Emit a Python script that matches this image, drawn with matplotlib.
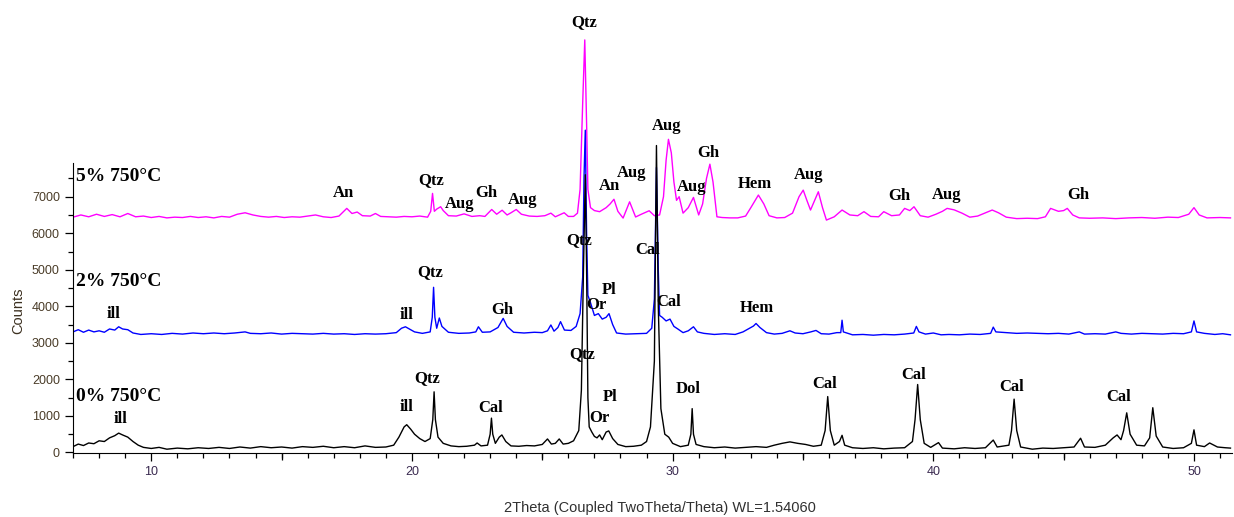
import numpy as np
import matplotlib.pyplot as plt
from matplotlib.ticker import MultipleLocator, FixedLocator

# ---------------- data ----------------
# 0% 750°C (black)
tt_0 = [7.0, 7.2, 7.4, 7.6, 7.8, 8.0, 8.2, 8.4, 8.6, 8.75, 8.9, 9.1, 9.3, 9.5, 9.7,
        10.0, 10.3, 10.6, 11.0, 11.4, 11.8, 12.2, 12.6, 13.0, 13.4, 13.8, 14.2, 14.6,
        15.0, 15.4, 15.8, 16.2, 16.6, 17.0, 17.4, 17.8, 18.2, 18.6, 19.0, 19.3, 19.5,
        19.7, 19.8, 19.95, 20.1, 20.3, 20.5, 20.7, 20.8, 20.85, 20.9, 21.0, 21.2, 21.5,
        21.8, 22.1, 22.4, 22.5, 22.65, 22.9, 23.0, 23.05, 23.1, 23.2, 23.35, 23.45, 23.6,
        23.8, 24.1, 24.4, 24.7, 25.0, 25.2, 25.35, 25.5, 25.65, 25.8, 26.0, 26.2, 26.4,
        26.5, 26.58, 26.65, 26.7, 26.75, 26.8, 26.9, 27.0, 27.1, 27.2, 27.3, 27.45, 27.55,
        27.7, 27.9, 28.2, 28.5, 28.8, 29.0, 29.15, 29.3, 29.38, 29.45, 29.55, 29.7, 29.85,
        30.0, 30.3, 30.6, 30.7, 30.75, 30.8, 30.9, 31.2, 31.6, 32.0, 32.4, 32.8, 33.2,
        33.6, 33.9, 34.2, 34.5, 34.8, 35.1, 35.4, 35.7, 35.85, 35.95, 36.05, 36.2, 36.4,
        36.5, 36.6, 36.9, 37.3, 37.7, 38.1, 38.5, 38.9, 39.2, 39.3, 39.4, 39.5, 39.65,
        39.9, 40.2, 40.35, 40.8, 41.2, 41.6, 42.0, 42.3, 42.45, 42.9, 43.0, 43.1, 43.2,
        43.35, 43.8, 44.2, 44.6, 45.0, 45.4, 45.65, 45.8, 46.2, 46.6, 46.9, 47.05, 47.2,
        47.3, 47.42, 47.55, 47.8, 48.1, 48.3, 48.42, 48.55, 48.8, 49.2, 49.6, 49.9, 50.0,
        50.1, 50.4, 50.6, 50.9, 51.2, 51.4]
cnt_0 = [160, 230, 190, 260, 240, 320, 300, 400, 460, 530, 480, 420, 300, 200, 140,
         110, 140, 90, 120, 100, 130, 110, 140, 110, 150, 120, 160, 130,
         150, 120, 160, 140, 170, 130, 160, 130, 180, 140, 150, 200, 420,
         700, 760, 640, 500, 380, 300, 380, 900, 1660, 900, 420, 250, 180,
         160, 170, 200, 260, 180, 200, 500, 940, 500, 250, 420, 480, 300,
         180, 170, 190, 180, 220, 370, 230, 250, 370, 230, 250, 320, 600,
         1700, 5000, 7600, 5000, 1500, 700, 560, 440, 400, 480, 350, 560, 590,
         380, 220, 160, 170, 200, 300, 700, 2500, 8400, 4000, 1200, 500, 420,
         250, 160, 200, 500, 1200, 500, 220, 160, 130, 150, 120, 140, 160,
         140, 200, 250, 290, 250, 220, 170, 200, 600, 1530, 600, 200, 300,
         470, 200, 130, 110, 130, 100, 120, 130, 300, 900, 1860, 900, 250,
         140, 270, 120, 100, 130, 110, 130, 340, 150, 200, 600, 1460, 600,
         150, 90, 120, 110, 130, 150, 390, 150, 140, 200, 400, 480, 350,
         600, 1085, 500, 200, 180, 400, 1225, 450, 150, 110, 130, 250, 620,
         200, 160, 260, 150, 130, 120]

# 2% 750°C (blue)
tt_2 = [7.0, 7.2, 7.4, 7.6, 7.8, 8.0, 8.2, 8.4, 8.6, 8.75, 8.9, 9.1, 9.3, 9.6, 10.0,
        10.4, 10.8, 11.2, 11.6, 12.0, 12.4, 12.8, 13.2, 13.6, 13.8, 14.2, 14.6, 15.0,
        15.4, 15.8, 16.2, 16.6, 17.0, 17.4, 17.8, 18.2, 18.6, 19.0, 19.4, 19.6, 19.75,
        19.9, 20.1, 20.4, 20.7, 20.78, 20.83, 20.88, 20.95, 21.05, 21.15, 21.4, 21.8,
        22.2, 22.45, 22.55, 22.7, 23.0, 23.3, 23.5, 23.65, 23.9, 24.3, 24.7, 25.0, 25.2,
        25.33, 25.45, 25.6, 25.7, 25.85, 26.1, 26.3, 26.45, 26.55, 26.6, 26.65, 26.7,
        26.75, 26.85, 27.0, 27.15, 27.3, 27.45, 27.56, 27.7, 27.85, 28.2, 28.6, 29.0,
        29.2, 29.3, 29.38, 29.45, 29.5, 29.6, 29.75, 29.9, 30.05, 30.2, 30.4, 30.6, 30.8,
        30.95, 31.2, 31.6, 32.0, 32.4, 32.7, 32.9, 33.1, 33.2, 33.35, 33.6, 33.9, 34.2,
        34.5, 34.7, 35.0, 35.3, 35.5, 35.7, 36.0, 36.3, 36.45, 36.5, 36.55, 36.9, 37.3,
        37.7, 38.1, 38.5, 38.9, 39.25, 39.35, 39.45, 39.7, 40.0, 40.3, 40.6, 41.0, 41.4,
        41.8, 42.2, 42.3, 42.4, 42.8, 43.2, 43.6, 44.0, 44.4, 44.8, 45.2, 45.6, 45.8,
        46.2, 46.6, 47.0, 47.2, 47.6, 48.0, 48.4, 48.8, 49.2, 49.6, 49.9, 50.0, 50.1,
        50.4, 50.8, 51.1, 51.4]
cnt_2 = [3300, 3360, 3290, 3350, 3300, 3330, 3290, 3380, 3350, 3440, 3380, 3360, 3270, 3230, 3250,
         3230, 3260, 3240, 3270, 3250, 3270, 3250, 3270, 3300, 3260, 3250, 3270, 3240,
         3260, 3250, 3240, 3260, 3240, 3250, 3230, 3250, 3240, 3250, 3280, 3400, 3440,
         3380, 3300, 3260, 3300, 3700, 4520, 3700, 3400, 3680, 3450, 3290, 3260,
         3270, 3300, 3440, 3290, 3300, 3420, 3670, 3450, 3290, 3270, 3290, 3280, 3330,
         3490, 3320, 3420, 3580, 3350, 3340, 3450, 3800, 4800, 7500, 8820, 6000,
         4300, 4100, 3750, 3800, 3650, 3700, 3800, 3500, 3270, 3240, 3250, 3260,
         3400, 4200, 7800, 5000, 3750, 3700, 3600, 3650, 3450, 3380, 3280, 3330, 3440,
         3300, 3260, 3230, 3250, 3230, 3300, 3380, 3460, 3530, 3420, 3280, 3240, 3260,
         3330, 3270, 3250, 3300, 3340, 3250, 3240, 3280, 3280, 3620, 3300, 3220, 3230,
         3210, 3230, 3220, 3240, 3270, 3450, 3300, 3240, 3270, 3220, 3230, 3220, 3240,
         3230, 3260, 3430, 3300, 3280, 3260, 3270, 3260, 3250, 3260, 3240, 3300, 3240,
         3250, 3240, 3300, 3260, 3240, 3260, 3250, 3240, 3260, 3250, 3300, 3600, 3300,
         3260, 3230, 3250, 3220]

# 5% 750°C (magenta)
tt_5 = [7.0, 7.3, 7.6, 7.9, 8.2, 8.5, 8.8, 9.1, 9.4, 9.7, 10.0, 10.3, 10.6, 10.9, 11.2,
        11.5, 11.8, 12.1, 12.4, 12.7, 13.0, 13.3, 13.6, 13.9, 14.2, 14.5, 14.8, 15.1,
        15.4, 15.7, 16.0, 16.3, 16.6, 16.9, 17.2, 17.5, 17.7, 17.9, 18.1, 18.4, 18.6,
        18.8, 19.1, 19.4, 19.7, 20.0, 20.3, 20.6, 20.72, 20.79, 20.86, 20.95, 21.1, 21.2,
        21.4, 21.7, 22.0, 22.3, 22.6, 22.8, 23.06, 23.25, 23.46, 23.65, 23.8, 24.0, 24.2,
        24.5, 24.8, 25.1, 25.33, 25.5, 25.84, 26.0, 26.2, 26.35, 26.45, 26.55, 26.63,
        26.7, 26.75, 26.85, 27.0, 27.2, 27.45, 27.6, 27.75, 27.9, 28.1, 28.35, 28.58,
        28.8, 29.1, 29.3, 29.5, 29.65, 29.75, 29.84, 29.95, 30.05, 30.15, 30.25, 30.4,
        30.6, 30.8, 31.0, 31.15, 31.3, 31.43, 31.55, 31.7, 31.9, 32.2, 32.5, 32.8, 33.0,
        33.29, 33.5, 33.7, 34.0, 34.3, 34.6, 34.85, 35.01, 35.15, 35.29, 35.45, 35.59,
        35.75, 35.9, 36.2, 36.5, 36.8, 37.1, 37.34, 37.6, 37.9, 38.1, 38.4, 38.7, 38.9,
        39.1, 39.26, 39.5, 39.8, 40.1, 40.35, 40.53, 40.8, 41.1, 41.4, 41.7, 42.0, 42.26,
        42.5, 42.8, 43.2, 43.6, 44.0, 44.3, 44.5, 44.8, 45.0, 45.14, 45.35, 45.6, 46.0,
        46.5, 47.0, 47.5, 48.0, 48.5, 49.0, 49.4, 49.8, 50.0, 50.2, 50.5, 51.0, 51.4]
cnt_5 = [6440, 6500, 6450, 6520, 6460, 6510, 6450, 6540, 6450, 6470, 6430, 6460, 6420, 6440, 6430,
         6460, 6430, 6450, 6420, 6460, 6440, 6520, 6560, 6500, 6460, 6440, 6460, 6430,
         6450, 6440, 6470, 6500, 6450, 6430, 6470, 6680, 6540, 6580, 6480, 6470, 6540,
         6460, 6450, 6440, 6460, 6450, 6470, 6440, 6600, 7090, 6600, 6660, 6725, 6620,
         6480, 6470, 6530, 6460, 6480, 6460, 6650, 6520, 6630, 6500, 6560, 6650, 6520,
         6470, 6460, 6480, 6550, 6450, 6560, 6460, 6460, 6550, 7200, 9560, 11290,
         9000, 7200, 6700, 6620, 6590, 6700, 6800, 6930, 6600, 6415, 6860, 6445,
         6520, 6615, 6480, 6500, 7000, 8000, 8570, 8200, 7400, 6900, 7000, 6550,
         6700, 6980, 6500, 6800, 7500, 7890, 7400, 6450, 6430, 6420, 6420, 6470, 6700,
         7045, 6800, 6480, 6420, 6430, 6550, 7000, 7180, 6900, 6635, 6900, 7135,
         6700, 6360, 6450, 6635, 6500, 6480, 6590, 6460, 6450, 6590, 6480, 6500, 6680,
         6620, 6725, 6480, 6440, 6520, 6600, 6680, 6640, 6550, 6440, 6470, 6560, 6635,
         6560, 6440, 6400, 6410, 6400, 6450, 6680, 6600, 6620, 6680, 6500, 6420, 6410,
         6420, 6400, 6420, 6430, 6410, 6440, 6430, 6520, 6700, 6500, 6420, 6430, 6420]

sample_names = ['5% 750°C', '2% 750°C', '0% 750°C']
sample_y = [7565, 4690, 1545]

# phase labels: (text, 2theta, counts)
labels_5 = [('An', 17.36, 7100), ('Qtz', 20.74, 7455), ('Aug', 21.81, 6800),
            ('Gh', 22.85, 7100), ('Aug', 24.26, 6910), ('Qtz', 26.6, 11780),
            ('An', 27.56, 7290), ('Aug', 28.44, 7650), ('Aug', 29.75, 8935),
            ('Aug', 30.74, 7265), ('Gh', 31.36, 8195), ('Hem', 33.16, 7345),
            ('Aug', 35.23, 7590), ('Gh', 38.68, 7020), ('Aug', 40.52, 7045),
            ('Gh', 45.58, 7045)]
labels_2 = [('ill', 8.54, 3790), ('ill', 19.78, 3765), ('Qtz', 20.7, 4940),
            ('Gh', 23.46, 3900), ('Qtz', 26.41, 5815), ('Or', 27.06, 4035),
            ('Pl', 27.56, 4445), ('Cal', 29.06, 5540), ('Cal', 29.86, 4120),
            ('Hem', 33.24, 3955)]
labels_0 = [('ill', 8.81, 915), ('ill', 19.78, 1245), ('Qtz', 20.58, 2040),
            ('Cal', 23.0, 1220), ('Qtz', 26.53, 2695), ('Or', 27.18, 945),
            ('Pl', 27.6, 1520), ('Dol', 30.6, 1740), ('Cal', 35.84, 1875),
            ('Cal', 39.26, 2120), ('Cal', 43.01, 1790), ('Cal', 47.12, 1520)]

# ---------------- plot ----------------
fig = plt.figure(figsize=(12.34, 5.17), dpi=100)
ax = fig.add_axes([0.0592, 0.1238, 0.939, 0.876])

ax.plot(tt_5, cnt_5, color='#ff00ff', lw=1.0)
ax.plot(tt_2, cnt_2, color='#0000ff', lw=1.0)
ax.plot(tt_0, cnt_0, color='black', lw=1.0)

serif = ['Liberation Serif', 'DejaVu Serif']
for name, yv in zip(sample_names, sample_y):
    ax.text(7.12, yv, name, family=serif, fontweight='bold', fontsize=14,
            ha='left', va='center')
for lst in (labels_5, labels_2, labels_0):
    for txt, xv, yv in lst:
        ax.text(xv, yv, txt, family=serif, fontweight='bold', fontsize=12,
                ha='center', va='center')

ax.set_xlim(7.0, 51.45)
ax.set_ylim(-14, 12380)
for s in ('top', 'right'):
    ax.spines[s].set_visible(False)
ax.spines['left'].set_bounds(-14, 7920)

ax.set_yticks(np.arange(0, 7001, 1000))
ax.yaxis.set_minor_locator(FixedLocator(np.arange(500, 7501, 1000)))
ax.xaxis.set_major_locator(MultipleLocator(10))
ax.xaxis.set_minor_locator(MultipleLocator(1))
ax.tick_params(axis='both', which='major', length=6, width=0.9, labelsize=9,
               labelfontfamily='Liberation Sans')
ax.tick_params(axis='both', which='minor', length=3.5, width=0.9)
ax.tick_params(axis='y', colors='black', labelcolor='#4a3c28')
ax.tick_params(axis='x', colors='black', labelcolor='#3a2a50')

# medium ticks every 5 degrees
sec = ax.secondary_xaxis('bottom')
sec.set_xticks([15, 25, 35, 45])
sec.set_xticklabels([])
sec.tick_params(length=5, width=0.9)
sec.spines['bottom'].set_visible(False)

fig.text(0.0146, 0.398, 'Counts', rotation=90, ha='center', va='center',
         family='Liberation Sans', fontsize=10.5, color='#3c3020')
fig.text(0.535, 0.017, '2Theta (Coupled TwoTheta/Theta) WL=1.54060',
         ha='center', va='center', family='Liberation Sans', fontsize=10.5,
         color='#303030')

fig.savefig('out.png', dpi=100)
